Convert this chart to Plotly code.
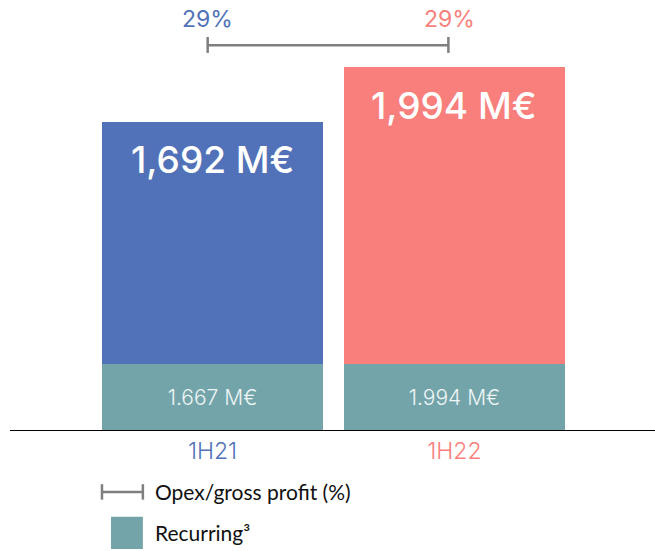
import plotly.graph_objects as go

categories = ["1H21", "1H22"]
totals = [1692, 1994]
recurring = [362, 362]  # visual height of the recurring segment (approx.)
total_labels = ["1,692 M€", "1,994 M€"]
recurring_labels = ["1.667 M€", "1.994 M€"]
opex_ratio = ["29%", "29%"]

blue = "#5172b8"
salmon = "#f87f7c"
teal = "#73a4aa"
colors = [blue, salmon]

upper = [t - r for t, r in zip(totals, recurring)]
xs = list(range(len(categories)))

fig = go.Figure()
fig.add_trace(go.Bar(
    x=xs, y=recurring, width=0.913, marker=dict(color=teal, line=dict(width=0)),
    text=recurring_labels, textposition="inside", insidetextanchor="middle",
    textfont=dict(family="Inter", size=21, color="#eef5f5", weight=300),
    hoverinfo="skip", showlegend=False,
))
fig.add_trace(go.Bar(
    x=xs, y=upper, width=0.913, marker=dict(color=colors, line=dict(width=0)),
    hoverinfo="skip", showlegend=False,
))

for i, (t, lab) in enumerate(zip(totals, total_labels)):
    fig.add_annotation(x=xs[i], y=t, text=lab, showarrow=False, yanchor="middle",
                       yshift=-38, font=dict(family="Inter", size=37, color="white", weight=500))
    fig.add_annotation(x=xs[i], y=0.956, yref="paper", yanchor="middle", text=opex_ratio[i], showarrow=False,
                       xshift=-5, font=dict(family="Inter", size=23, color=colors[i]))

# bracket (Opex/gross profit)
gray = "#7f7f7f"
x0, x1 = xs[0] - 0.02, xs[1] - 0.025
fig.add_shape(type="line", x0=x0, x1=x1, y0=0.895, y1=0.895, yref="paper", line=dict(color=gray, width=2.5))
for xx in (x0, x1):
    fig.add_shape(type="line", x0=xx, x1=xx, y0=0.877, y1=0.914, yref="paper", line=dict(color=gray, width=2.5))

# legend
fig.add_shape(type="line", xref="paper", yref="paper", x0=0.1426, x1=0.206, y0=-0.144, y1=-0.144, line=dict(color=gray, width=2.5))
for xx in (0.1426, 0.206):
    fig.add_shape(type="line", xref="paper", yref="paper", x0=xx, x1=xx, y0=-0.126, y1=-0.162, line=dict(color=gray, width=2.5))
fig.add_shape(type="rect", xref="paper", yref="paper", x0=0.1566, x1=0.206, y0=-0.202, y1=-0.277,
              fillcolor=teal, line=dict(width=0))
fig.add_annotation(xref="paper", yref="paper", x=0.2217, y=-0.144, xanchor="left", yanchor="middle",
                   text="Opex/gross profit (%)", showarrow=False,
                   font=dict(family="Lato", size=21, color="#111111"))
fig.add_annotation(xref="paper", yref="paper", x=0.2217, y=-0.2395, xanchor="left", yanchor="middle",
                   text="Recurring³", showarrow=False,
                   font=dict(family="Lato", size=21, color="#111111"))

ymax = 1994 * 430 / 363
fig.update_layout(
    width=655, height=551, barmode="stack", bargap=0,
    margin=dict(l=10, r=0, t=0, b=121),
    plot_bgcolor="white", paper_bgcolor="white",
    xaxis=dict(range=[-0.837, 1.829], tickvals=xs,
               ticktext=[f"<span style='color:{c}'>{n}</span>" for n, c in zip(categories, colors)],
               tickfont=dict(family="Inter", size=23, weight=300), showgrid=False, zeroline=False,
               showline=True, linecolor="black", linewidth=1, ticks="", fixedrange=True),
    yaxis=dict(range=[0, ymax], visible=False, fixedrange=True),
)

fig.write_html("out.html", config={"displayModeBar": False},
               post_script="document.body.style.margin='0px';")
